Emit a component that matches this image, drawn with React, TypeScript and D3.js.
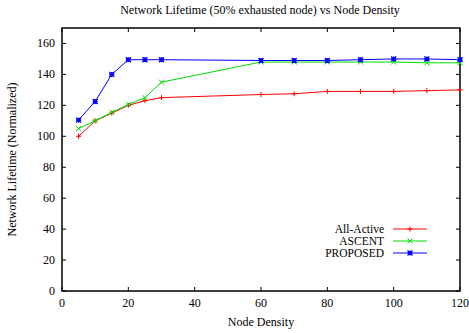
import { useEffect, useRef } from 'react';
import * as d3 from 'd3';

const density = [5, 10, 15, 20, 25, 30, 60, 70, 80, 90, 100, 110, 120];
const allActive = [100, 110, 115, 120, 123, 125, 127, 127.5, 129, 129, 129, 129.5, 130];
const ascent = [105, 110, 115.5, 120.5, 125, 135, 148, 148, 148, 148, 148, 147.5, 147.5];
const proposed = [110.5, 122.5, 140, 149.5, 149.5, 149.5, 149, 149, 149, 149.5, 150, 150, 149.5];
const seriesNames = ['All-Active', 'ASCENT', 'PROPOSED'];
const seriesColors = ['#ff0000', '#00dd00', '#0000ff'];
const xTicks = [0, 20, 40, 60, 80, 100, 120];
const yTicks = [0, 20, 40, 60, 80, 100, 120, 140, 160];

export default function App() {
    const svgRef = useRef<SVGSVGElement>(null);

    useEffect(() => {
        if (!svgRef.current) return;
        const width = 469;
        const height = 333;
        const m = { left: 62, right: 9, top: 28, bottom: 42 };
        const font = '"Liberation Serif", "Times New Roman", serif';

        const svg = d3.select(svgRef.current);
        svg.selectAll('*').remove();

        const x = d3.scaleLinear().domain([0, 120]).range([m.left, width - m.right]);
        const y = d3.scaleLinear().domain([0, 170]).range([height - m.bottom, m.top]);

        const g = svg.append('g').attr('font-family', font).attr('font-size', 12).attr('fill', '#000');

        // ticks, mirrored on all sides
        const tl = 4;
        xTicks.forEach(t => {
            g.append('line').attr('x1', x(t)).attr('x2', x(t)).attr('y1', y(0)).attr('y2', y(0) - tl).attr('stroke', '#000');
            g.append('line').attr('x1', x(t)).attr('x2', x(t)).attr('y1', y(170)).attr('y2', y(170) + tl).attr('stroke', '#000');
            g.append('text').attr('x', x(t)).attr('y', y(0) + 16).attr('text-anchor', 'middle').text(t);
        });
        yTicks.forEach(t => {
            g.append('line').attr('x1', x(0)).attr('x2', x(0) + tl).attr('y1', y(t)).attr('y2', y(t)).attr('stroke', '#000');
            g.append('line').attr('x1', x(120)).attr('x2', x(120) - tl).attr('y1', y(t)).attr('y2', y(t)).attr('stroke', '#000');
            g.append('text').attr('x', x(0) - 7).attr('y', y(t) + 4).attr('text-anchor', 'end').text(t);
        });

        g.append('rect')
            .attr('x', x(0)).attr('y', y(170))
            .attr('width', x(120) - x(0)).attr('height', y(0) - y(170))
            .attr('fill', 'none').attr('stroke', '#000').attr('stroke-width', 1.5);

        const allSeries = [allActive, ascent, proposed];
        const line = d3.line<number>().x((_, i) => x(density[i])).y(d => y(d));

        const marker = (sel: any, k: number, cx: number, cy: number) => {
            const c = seriesColors[k];
            const s = 2.5;
            if (k === 0) {
                sel.append('path').attr('d', `M${cx - s},${cy}H${cx + s}M${cx},${cy - s}V${cy + s}`).attr('stroke', c).attr('stroke-width', 1);
            } else if (k === 1) {
                sel.append('path').attr('d', `M${cx - s},${cy - s}L${cx + s},${cy + s}M${cx - s},${cy + s}L${cx + s},${cy - s}`).attr('stroke', c).attr('stroke-width', 1);
            } else {
                sel.append('path').attr('d', `M${cx - s},${cy}H${cx + s}M${cx},${cy - s}V${cy + s}M${cx - s},${cy - s}L${cx + s},${cy + s}M${cx - s},${cy + s}L${cx + s},${cy - s}`).attr('stroke', c).attr('stroke-width', 1.2);
                sel.append('rect').attr('x', cx - 2).attr('y', cy - 2).attr('width', 4).attr('height', 4).attr('fill', c);
            }
        };

        allSeries.forEach((vals, k) => {
            g.append('path').datum(vals).attr('d', line).attr('fill', 'none').attr('stroke', seriesColors[k]).attr('stroke-width', 1);
            const mg = g.append('g');
            vals.forEach((v, i) => marker(mg, k, x(density[i]), y(v)));
        });

        // legend
        seriesNames.forEach((name, k) => {
            const ly = 229 + k * 12;
            g.append('text').attr('x', 384).attr('y', ly + 4).attr('text-anchor', 'end').attr('font-size', 11.5).text(name);
            g.append('line').attr('x1', 393).attr('x2', 427).attr('y1', ly).attr('y2', ly).attr('stroke', seriesColors[k]);
            marker(g.append('g'), k, 410, ly);
        });

        g.append('text').attr('x', 260).attr('y', 14).attr('text-anchor', 'middle').text('Network Lifetime (50% exhausted node) vs Node Density');
        g.append('text').attr('x', 261).attr('y', 326).attr('text-anchor', 'middle').text('Node Density');
        g.append('text').attr('transform', `translate(16,${(y(0) + y(170)) / 2}) rotate(-90)`).attr('text-anchor', 'middle').text('Network Lifetime (Normalized)');
    }, []);

    return (
        <svg ref={svgRef} width={469} height={333} style={{ position: 'absolute', left: 0, top: 0, background: '#fff' }} />
    );
}
